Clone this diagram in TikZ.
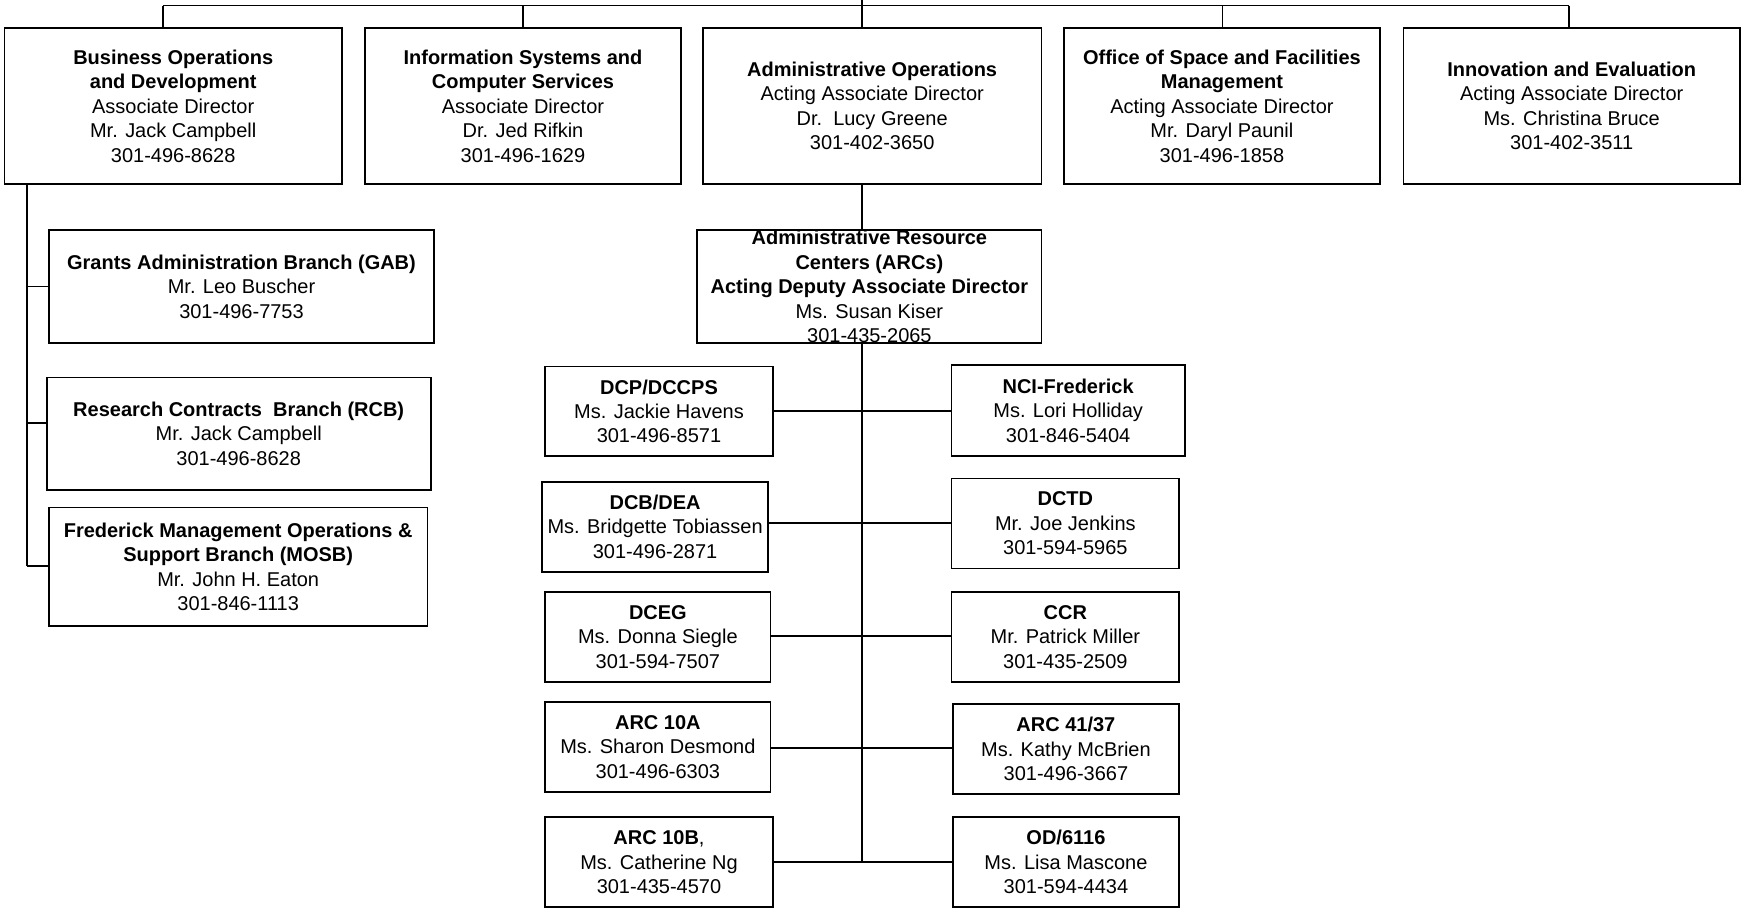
\documentclass[tikz,border=0pt]{standalone}
\usepackage{fontspec}
\setmainfont{Liberation Sans}
\tikzset{
  obox/.style={draw=black, line width=0.8pt, inner sep=0pt, fill=white},
  otext/.style={align=center, inner sep=0pt, font=\fontsize{9}{11}\selectfont},
  conn/.style={draw=black, line width=0.8pt},
}
\newcommand\obox[6]{%
  \node[obox, minimum width=#4*0.5pt, minimum height=#5*0.5pt] (#1) at (#2,#3) {};
  \node[otext] at (#1.center) {#6};}
\begin{document}
\begin{tikzpicture}[x=0.5pt,y=-0.5pt]
\useasboundingbox[fill=white] (0,0) rectangle (1568,818);
% top level boxes
\obox{b1}{156}{95.5}{304}{141}{\textbf{Business Operations}\\\textbf{and Development}\\Associate Director\\Mr. Jack Campbell\\301-496-8628}
\obox{b2}{471}{95.5}{284}{141}{\textbf{Information Systems and}\\\textbf{Computer Services}\\Associate Director\\Dr. Jed Rifkin\\301-496-1629}
\obox{b3}{785.5}{95.5}{305}{141}{\textbf{Administrative Operations}\\Acting Associate Director\\Dr.\ \ Lucy Greene\\301-402-3650}
\obox{b4}{1100.5}{95.5}{285}{141}{\textbf{Office of Space and Facilities}\\\textbf{Management}\\Acting Associate Director\\Mr. Daryl Paunil\\301-496-1858}
\obox{b5}{1415.5}{95.5}{303}{141}{\textbf{Innovation and Evaluation}\\Acting Associate Director\\Ms. Christina Bruce\\301-402-3511}
% left branch
\obox{gab}{217.5}{258}{347}{102}{\textbf{Grants Administration Branch (GAB)}\\Mr. Leo Buscher\\301-496-7753}
\obox{rcb}{215}{390.5}{346}{101}{\textbf{Research Contracts\ \ Branch (RCB)}\\Mr. Jack Campbell\\301-496-8628}
\obox{mosb}{214.5}{510.5}{341}{107}{\textbf{Frederick Management Operations \&}\\\textbf{Support Branch (MOSB)}\\Mr. John H. Eaton\\301-846-1113}
% ARC
\obox{arc}{783}{258}{310}{102}{\textbf{Administrative Resource}\\\textbf{Centers (ARCs)}\\\textbf{Acting Deputy Associate Director}\\Ms. Susan Kiser\\301-435-2065}
% pairs
\obox{dcp}{593.5}{370.5}{205}{81}{\textbf{DCP/DCCPS}\\Ms. Jackie Havens\\301-496-8571}
\obox{nci}{962}{370}{210}{82}{\textbf{NCI-Frederick}\\Ms. Lori Holliday\\301-846-5404}
\obox{dcb}{590}{474.5}{204}{81}{\textbf{DCB/DEA}\\Ms. Bridgette Tobiassen\\301-496-2871}
\obox{dctd}{959.5}{471.5}{205}{81}{\textbf{DCTD}\\Mr. Joe Jenkins\\301-594-5965}
\obox{dceg}{592.5}{573.5}{203}{81}{\textbf{DCEG}\\Ms. Donna Siegle\\301-594-7507}
\obox{ccr}{959.5}{573.5}{205}{81}{\textbf{CCR}\\Mr. Patrick Miller\\301-435-2509}
\obox{a10a}{592.5}{672.5}{203}{81}{\textbf{ARC 10A}\\Ms. Sharon Desmond\\301-496-6303}
\obox{a4137}{960}{674.5}{204}{81}{\textbf{ARC 41/37}\\Ms. Kathy McBrien\\301-496-3667}
\obox{a10b}{593.5}{776.5}{205}{81}{\textbf{ARC 10B},\\Ms. Catherine Ng\\301-435-4570}
\obox{od}{960}{776.5}{204}{81}{\textbf{OD/6116}\\Ms. Lisa Mascone\\301-594-4434}
% coordinates
\coordinate (top) at (776,0);
\coordinate (d1) at (147,5);
\coordinate (d2) at (471,5);
\coordinate (d3) at (776,5);
\coordinate (d4) at (1101,5);
\coordinate (d5) at (1413,5);
\coordinate (lend) at (24,510);
\coordinate (l1) at (24,258);
\coordinate (l2) at (24,381);
\coordinate (r1) at (776,370);
\coordinate (r2) at (776,471);
\coordinate (r3) at (776,573);
\coordinate (r4) at (776,674);
\coordinate (r5) at (776,776);
% top connectors
\draw[conn] (d1) -- (d5);
\draw[conn] (top) -- (d3);
\draw[conn] (d1) -- (d1 |- b1.north);
\draw[conn] (d2) -- (d2 |- b2.north);
\draw[conn] (d3) -- (d3 |- b3.north);
\draw[conn] (d4) -- (d4 |- b4.north);
\draw[conn] (d5) -- (d5 |- b5.north);
% left branch connectors
\draw[conn] (b1.south -| lend) -- (lend);
\draw[conn] (l1) -- (l1 -| gab.west);
\draw[conn] (l2) -- (l2 -| rcb.west);
\draw[conn] (lend) -- (lend -| mosb.west);
% ARC connectors
\draw[conn] (b3.south -| d3) -- (arc.north -| d3);
\draw[conn] (arc.south -| r5) -- (r5);
\draw[conn] (dcp.east |- r1) -- (nci.west |- r1);
\draw[conn] (dcb.east |- r2) -- (dctd.west |- r2);
\draw[conn] (dceg.east |- r3) -- (ccr.west |- r3);
\draw[conn] (a10a.east |- r4) -- (a4137.west |- r4);
\draw[conn] (a10b.east |- r5) -- (od.west |- r5);
\end{tikzpicture}
\end{document}
